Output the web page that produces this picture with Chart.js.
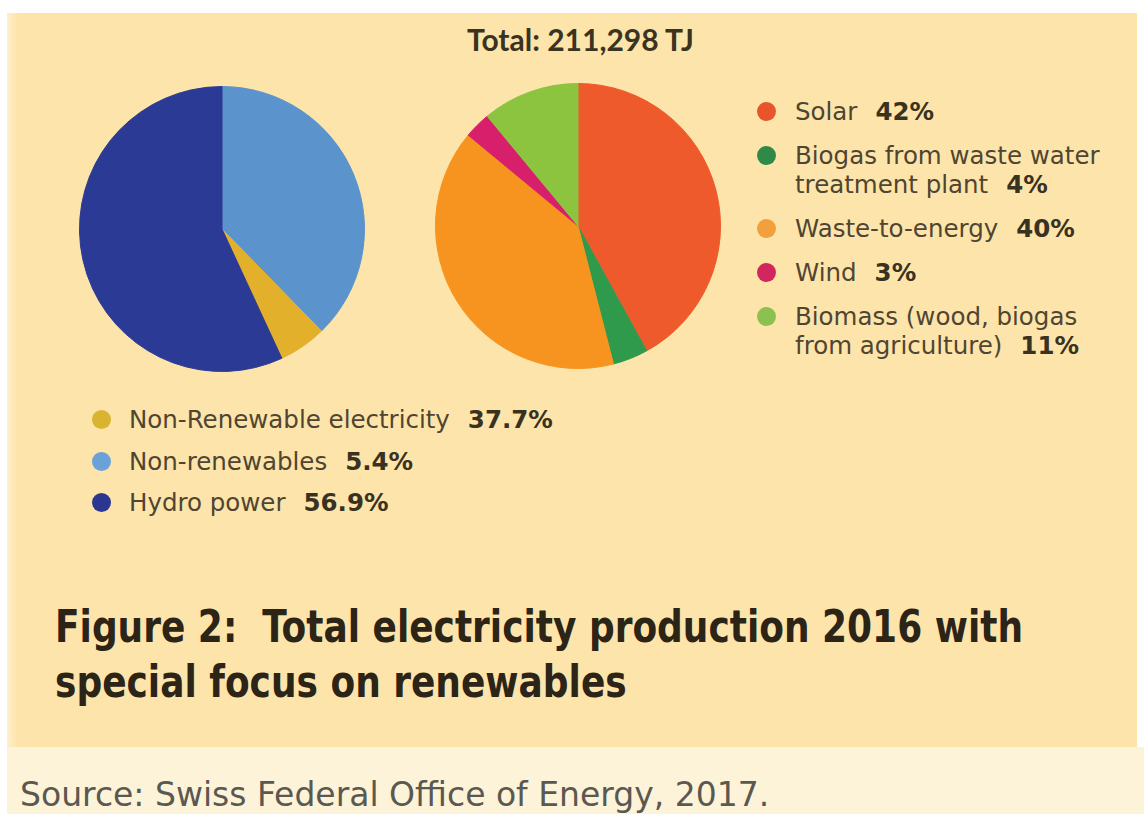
<!DOCTYPE html>
<html>
<head>
<meta charset="utf-8">
<script src="https://cdn.jsdelivr.net/npm/chart.js@4.4.1/dist/chart.umd.min.js"></script>
<style>
  html, body { margin: 0; padding: 0; background: #ffffff; }
  body { width: 1144px; height: 814px; position: relative; overflow: hidden; }
  #panel {
    position: absolute; left: 7px; top: 13px; width: 1130px; height: 734px;
    background: linear-gradient(to right, #fdf0cf 0px, #fde4aa 10px, #fde4aa 100%);
  }
  #strip {
    position: absolute; left: 7px; top: 747px; width: 1137px; height: 67px;
    background: #fdf3d9;
  }
  .pie { position: absolute; width: 286px; height: 286px; }
  #total {
    position: absolute; left: 467px; top: 21px;
    font-family: Lato, sans-serif; font-weight: 700; font-size: 30px;
    color: #3a3320; white-space: nowrap;
  }
  .legend {
    position: absolute; font-family: "DejaVu Sans", sans-serif; font-size: 24.5px;
    color: #4f4531;
  }
  .legend .item { position: relative; white-space: nowrap; }
  .legend .line { display: block; height: 29px; line-height: 29px; }
  .legend .dot {
    position: absolute; width: 19px; height: 19px; border-radius: 50%;
    top: 5px;
  }
  .legend .pct { font-weight: bold; color: #3a3220; margin-left: 18px; }
  #legendRight { left: 795px; top: 97px; }
  #legendRight .item { margin-bottom: 15px; }
  #legendRight .dot { left: -38px; }
  #legendLeft { left: 129px; top: 405px; }
  #legendLeft .item { margin-bottom: 12.5px; }
  #legendLeft .dot { left: -37px; }
  #title {
    position: absolute; left: 55px; top: 599px;
    font-family: "DejaVu Sans", sans-serif; font-stretch: condensed; font-weight: bold;
    font-size: 44px; line-height: 55px; color: #2b2417;
    transform-origin: left top; white-space: nowrap;
  }
  #source {
    position: absolute; left: 20px; top: 775px;
    font-family: "DejaVu Sans", sans-serif; font-size: 33px; color: #5b5850;
    white-space: nowrap;
  }
</style>
</head>
<body>
<div id="panel"></div>
<div id="strip"></div>

<canvas id="pieLeft" class="pie" width="286" height="286" style="left:79px; top:86px;"></canvas>
<canvas id="pieRight" class="pie" width="286" height="286" style="left:435px; top:83px;"></canvas>

<div id="total">Total: 211,298 TJ</div>
<div id="legendRight" class="legend"></div>
<div id="legendLeft" class="legend"></div>

<div id="title">Figure 2:&nbsp; Total electricity production 2016 with<br>special focus on renewables</div>
<div id="source">Source: Swiss Federal Office of Energy, 2017.</div>

<script>
// Total electricity production (left pie)
const totalLabels = ['Non-Renewable electricity', 'Non-renewables', 'Hydro power']
const totalValues = [37.7, 5.4, 56.9]
const totalSliceColors = ['#5b93cc', '#e2b02a', '#2b3a94']
const totalDotColors = ['#d9b430', '#6aa1d8', '#2a3690']

// Renewables breakdown (right pie)
const renewLabels = [
  'Solar',
  'Biogas from waste water\ntreatment plant',
  'Waste-to-energy',
  'Wind',
  'Biomass (wood, biogas\nfrom agriculture)'
]
const renewValues = [42, 4, 40, 3, 11]
const renewColors = ['#ee5a2b', '#2f9a4c', '#f7941f', '#d81f6c', '#8cc43f']
const renewDotColors = ['#e8552c', '#2e8a46', '#f2a03c', '#d1265e', '#8cc152']

function makePie(id, labels, values, colors) {
  const ctx = document.getElementById(id)
  return new Chart(ctx, {
    type: 'pie',
    data: {
      labels: labels,
      datasets: [{
        data: values,
        backgroundColor: colors,
        borderColor: colors,
        borderWidth: 1
      }]
    },
    options: {
      responsive: false,
      animation: false,
      events: [],
      layout: { padding: 0 },
      plugins: {
        legend: { display: false },
        tooltip: { enabled: false }
      }
    }
  })
}

function buildLegend(id, labels, values, dotColors) {
  const box = document.getElementById(id)
  labels.forEach((label, i) => {
    const item = document.createElement('div')
    item.className = 'item'
    const dot = document.createElement('span')
    dot.className = 'dot'
    dot.style.background = dotColors[i]
    item.appendChild(dot)

    const lines = label.split('\n')
    lines.forEach((text, j) => {
      const line = document.createElement('div')
      line.className = 'line'
      const span = document.createElement('span')
      span.textContent = text
      line.appendChild(span)
      // the share goes after the last line of the label
      if (j === lines.length - 1) {
        const pct = document.createElement('span')
        pct.className = 'pct'
        pct.textContent = values[i] + '%'
        line.appendChild(pct)
      }
      item.appendChild(line)
    })
    box.appendChild(item)
  })
}

makePie('pieLeft', totalLabels, totalValues, totalSliceColors)
makePie('pieRight', renewLabels, renewValues, renewColors)
buildLegend('legendRight', renewLabels, renewValues, renewDotColors)
buildLegend('legendLeft', totalLabels, totalValues, totalDotColors)

// squeeze the heading so the first line spans the panel like the printed figure
const title = document.getElementById('title')
const probe = document.createElement('span')
probe.style.font = getComputedStyle(title).font
probe.style.whiteSpace = 'nowrap'
probe.style.position = 'absolute'
probe.style.visibility = 'hidden'
probe.textContent = 'Figure 2:\u00a0 Total electricity production 2016 with'
document.body.appendChild(probe)
const sx = 968 / probe.getBoundingClientRect().width
title.style.transform = 'scaleX(' + sx + ')'
probe.remove()
</script>
</body>
</html>
